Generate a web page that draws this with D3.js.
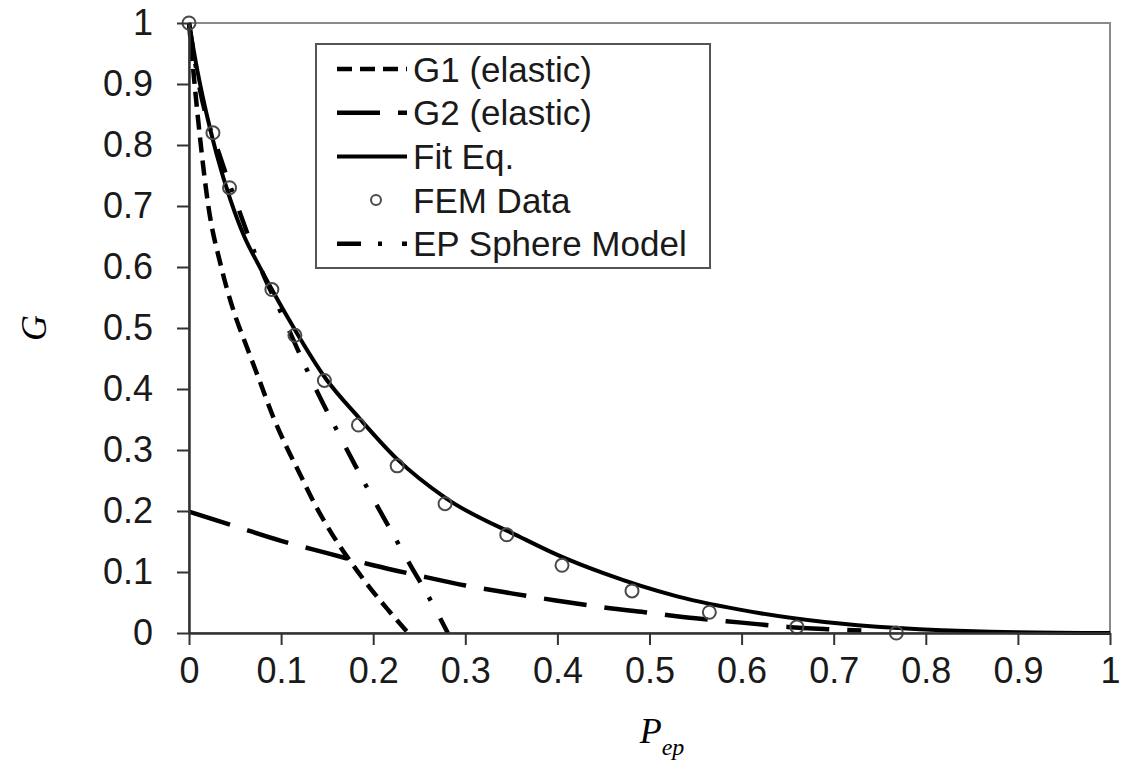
<!DOCTYPE html>
<html>
<head>
<meta charset="utf-8">
<script src="https://cdn.jsdelivr.net/npm/d3@7"></script>
<style>
  body { margin: 0; background: #fff; }
  text { font-family: "Liberation Sans", Arial, sans-serif; }
</style>
</head>
<body>
<div id="chart"></div>
<script>
// tick labels
const xTicks = [0, 0.1, 0.2, 0.3, 0.4, 0.5, 0.6, 0.7, 0.8, 0.9, 1];
const xTickLabels = ['0', '0.1', '0.2', '0.3', '0.4', '0.5', '0.6', '0.7', '0.8', '0.9', '1'];
const yTicks = [0, 0.1, 0.2, 0.3, 0.4, 0.5, 0.6, 0.7, 0.8, 0.9, 1];
const yTickLabels = ['0', '0.1', '0.2', '0.3', '0.4', '0.5', '0.6', '0.7', '0.8', '0.9', '1'];

// G1 (elastic)
const g1X = [0, 0.01, 0.021, 0.035, 0.048, 0.063, 0.077, 0.092, 0.105, 0.12, 0.137, 0.155, 0.175, 0.195, 0.215, 0.238];
const g1Y = [1.0, 0.84, 0.70, 0.60, 0.53, 0.468, 0.412, 0.352, 0.308, 0.262, 0.210, 0.163, 0.118, 0.077, 0.040, 0.0];

// G2 (elastic)
const g2X = [0, 0.05, 0.10, 0.15, 0.20, 0.25, 0.30, 0.35, 0.40, 0.45, 0.50, 0.55, 0.60, 0.65, 0.70, 0.73];
const g2Y = [0.199, 0.175, 0.151, 0.131, 0.111, 0.094, 0.078, 0.065, 0.053, 0.042, 0.033, 0.024, 0.017, 0.010, 0.006, 0.004];

// Fit Eq.
const fitX = [0, 0.01, 0.02, 0.03, 0.045, 0.06, 0.075, 0.09, 0.115, 0.148, 0.185, 0.226, 0.28, 0.36, 0.40, 0.45, 0.53, 0.61, 0.69, 0.77, 0.87, 1.0];
const fitY = [1.0, 0.915, 0.845, 0.785, 0.71, 0.65, 0.605, 0.563, 0.497, 0.418, 0.352, 0.285, 0.22, 0.157, 0.128, 0.098, 0.06, 0.035, 0.018, 0.008, 0.002, 0.0];

// FEM Data
const femX = [0, 0.026, 0.044, 0.090, 0.115, 0.147, 0.184, 0.226, 0.278, 0.345, 0.405, 0.481, 0.565, 0.660, 0.768];
const femY = [1.0, 0.82, 0.73, 0.563, 0.488, 0.414, 0.341, 0.274, 0.212, 0.161, 0.111, 0.069, 0.034, 0.010, 0.0];

// EP Sphere Model
const epX = [0, 0.012, 0.034, 0.055, 0.08, 0.10, 0.12, 0.14, 0.16, 0.18, 0.20, 0.22, 0.24, 0.26, 0.281];
const epY = [1.0, 0.89, 0.78, 0.69, 0.59, 0.525, 0.458, 0.393, 0.334, 0.276, 0.22, 0.166, 0.112, 0.06, 0.0];

const margin = {top: 23, right: 11, bottom: 132, left: 189};
const W = 1121, H = 765;
const width = W - margin.left - margin.right;
const height = H - margin.top - margin.bottom;

const svg = d3.select('#chart').append('svg')
    .attr('width', W)
    .attr('height', H);

svg.append('rect').attr('width', W).attr('height', H).attr('fill', '#fff');

const g = svg.append('g')
    .attr('transform', 'translate(' + margin.left + ',' + margin.top + ')');

const x = d3.scaleLinear().domain([0, 1]).range([0, width]);
const y = d3.scaleLinear().domain([0, 1]).range([height, 0]);

// plot frame (top + right)
g.append('rect')
    .attr('width', width).attr('height', height)
    .attr('fill', 'none')
    .attr('stroke', '#8a8a8a')
    .attr('stroke-width', 2);

const zip = (xs, ys) => xs.map((v, i) => [v, ys[i]]);
const line = d3.line()
    .x(d => x(d[0]))
    .y(d => y(d[1]))
    .curve(d3.curveMonotoneX);

const series = [
  {name: 'G1 (elastic)', data: zip(g1X, g1Y), dash: '15,8', w: 4.5},
  {name: 'G2 (elastic)', data: zip(g2X, g2Y), dash: '43,18', w: 4.5},
  {name: 'Fit Eq.', data: zip(fitX, fitY), dash: null, w: 4},
  {name: 'FEM Data', data: null},
  {name: 'EP Sphere Model', data: zip(epX, epY), dash: '24,17,4,20', w: 4.5}
];

series.filter(s => s.data).forEach(s => {
  g.append('path')
    .datum(s.data)
    .attr('d', line)
    .attr('fill', 'none')
    .attr('stroke', '#000')
    .attr('stroke-width', s.w)
    .attr('stroke-dasharray', s.dash);
});

// FEM circles
g.selectAll('.fem').data(zip(femX, femY)).enter().append('circle')
    .attr('class', 'fem')
    .attr('cx', d => x(d[0]))
    .attr('cy', d => y(d[1]))
    .attr('r', 6.5)
    .attr('fill', 'none')
    .attr('stroke', '#4a4a4a')
    .attr('stroke-width', 2);

// axes
const xAxis = g.append('g')
    .attr('transform', 'translate(0,' + height + ')')
    .call(d3.axisBottom(x).tickValues(xTicks)
      .tickFormat((d, i) => xTickLabels[i])
      .tickSize(12).tickSizeOuter(0).tickPadding(12));
const yAxis = g.append('g')
    .call(d3.axisLeft(y).tickValues(yTicks)
      .tickFormat((d, i) => yTickLabels[i])
      .tickSize(12).tickSizeOuter(0).tickPadding(24));

[xAxis, yAxis].forEach(a => {
  a.select('.domain').attr('stroke', '#333').attr('stroke-width', 2.5);
  a.selectAll('.tick line').attr('stroke', '#333').attr('stroke-width', 2);
  a.selectAll('.tick text')
    .attr('fill', '#1a1a1a')
    .style('font-size', '36px')
    .style('font-family', '"Liberation Sans", Arial, sans-serif');
});

// axis titles
svg.append('text')
    .attr('transform', 'translate(46,' + (margin.top + height / 2) + ') rotate(-90)')
    .attr('text-anchor', 'middle')
    .style('font-family', '"Liberation Serif", "Times New Roman", serif')
    .style('font-style', 'italic')
    .style('font-size', '36px')
    .text('G');

const xt = svg.append('text')
    .attr('x', 662).attr('y', 743)
    .attr('text-anchor', 'middle')
    .style('font-family', '"Liberation Serif", "Times New Roman", serif')
    .style('font-style', 'italic')
    .style('font-size', '36px');
xt.append('tspan').text('P');
xt.append('tspan').attr('dy', 12).style('font-size', '24px').text('ep');

// legend
const legend = svg.append('g').attr('transform', 'translate(316,44)');
legend.append('rect')
    .attr('width', 394).attr('height', 224)
    .attr('fill', '#fff')
    .attr('stroke', '#555')
    .attr('stroke-width', 2);

series.forEach((s, i) => {
  const ry = 25 + i * 43.7;
  const row = legend.append('g').attr('transform', 'translate(0,' + ry + ')');
  if (s.data) {
    row.append('line')
      .attr('x1', 21).attr('x2', 91)
      .attr('stroke', '#000')
      .attr('stroke-width', s.w)
      .attr('stroke-dasharray', s.dash);
  } else {
    row.append('circle')
      .attr('cx', 60).attr('r', 5)
      .attr('fill', 'none')
      .attr('stroke', '#4a4a4a')
      .attr('stroke-width', 2);
  }
  row.append('text')
    .attr('x', 97)
    .attr('dy', '0.36em')
    .attr('fill', '#1a1a1a')
    .style('font-size', '35px')
    .text(s.name);
});
</script>
</body>
</html>
